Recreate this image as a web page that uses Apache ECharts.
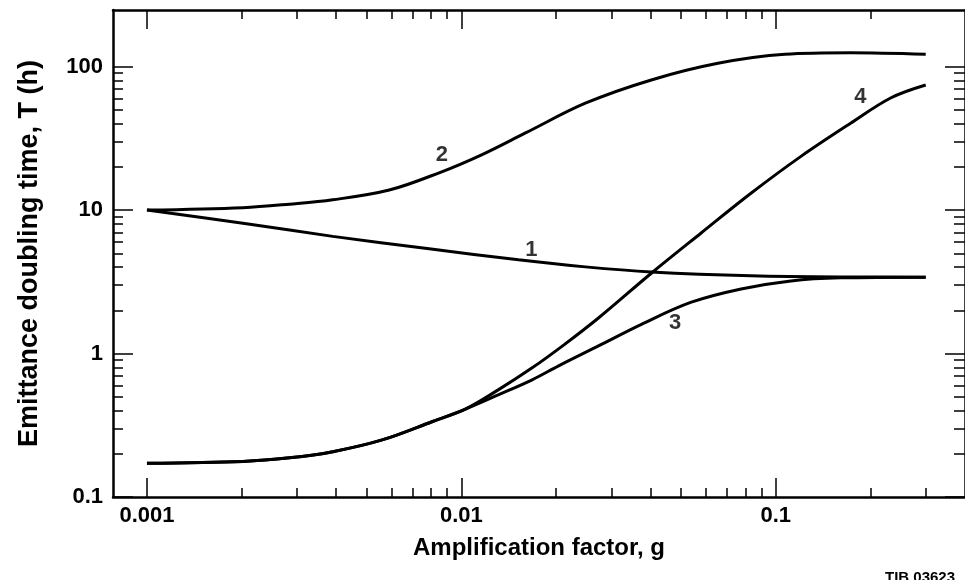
<!DOCTYPE html>
<html>
<head>
<meta charset="utf-8">
<script src="https://cdn.jsdelivr.net/npm/echarts@6.0.0/dist/echarts.min.js"></script>
<style>html,body{margin:0;padding:0;background:#fff}#c{width:965px;height:580px}</style>
</head>
<body>
<div id="c"></div>
<script>
// ---- data (g, T) ----
const curve1 = [[0.001,10],[0.00202,8.1],[0.0039,6.56],[0.0079,5.37],[0.0152,4.5],[0.0248,4.02],[0.0402,3.71],[0.0834,3.49],[0.173,3.42],[0.3,3.41]];
const curve2 = [[0.001,10],[0.00202,10.4],[0.00284,11.0],[0.0039,11.8],[0.0059,13.8],[0.0085,18.2],[0.0116,24.3],[0.016,34.5],[0.0248,55.6],[0.0402,80.8],[0.0655,105.6],[0.107,122],[0.173,125],[0.3,122]];
const curve3 = [[0.001,0.172],[0.00202,0.177],[0.00284,0.1875],[0.0039,0.207],[0.0056,0.25],[0.0081,0.336],[0.0103,0.41],[0.0131,0.515],[0.0168,0.656],[0.0204,0.821],[0.0273,1.13],[0.0374,1.6],[0.0539,2.28],[0.0776,2.82],[0.1117,3.21],[0.161,3.37],[0.3,3.41]];
const curve4 = [[0.001,0.172],[0.00202,0.177],[0.00284,0.1875],[0.0039,0.207],[0.0056,0.25],[0.0081,0.336],[0.0103,0.41],[0.0131,0.558],[0.0168,0.795],[0.0212,1.15],[0.0273,1.77],[0.0402,3.63],[0.0578,6.9],[0.0834,13.1],[0.12,23.6],[0.173,40.3],[0.232,60.5],[0.3,74.5]];
const curveLabels = [
  {name:'1', value:[0.0167,5.28]},
  {name:'2', value:[0.00867,24.3]},
  {name:'3', value:[0.0479,1.63]},
  {name:'4', value:[0.186,61.5]}
];
const xMajorTicks = [0.001,0.01,0.1];
const xMajorLabels = ['0.001','0.01','0.1'];
const xMinorBottom = [0.002,0.003,0.004,0.005,0.006,0.007,0.008,0.009,0.02,0.03,0.04,0.05,0.06,0.07,0.08,0.09,0.2,0.3];
const xMinorTop = [0.002,0.003,0.004,0.005,0.006,0.007,0.008,0.009,0.02,0.03,0.04,0.05,0.06,0.07,0.08,0.09,0.2];
const yMajorTicks = [0.1,1,10,100];
const yMajorLabels = ['0.1','1','10','100'];
const yMinorTicks = [0.2,0.3,0.4,0.5,0.6,0.7,0.8,0.9,2,3,4,5,6,7,8,9,20,30,40,50,60,70,80,90];
const xTitle = 'Amplification factor, g';
const yTitle = 'Emittance doubling time, T (h)';
const figId = 'TIB 03623';

// ---- layout ----
const L = Math.log10;
const XMIN = Math.pow(10,-3.108), XMAX = 0.4;
const YMIN = 0.1, YMAX = Math.pow(10,2.395);
const FONT = '"Liberation Sans", Arial, Helvetica, sans-serif';
const INK = '#000';

function fmt(ticks, labels){
  const lt = ticks.map(L);
  return v => { const i = lt.findIndex(t => Math.abs(t - v) < 1e-6); return i >= 0 ? labels[i] : ''; };
}
function tickAxis(position, lo, hi, ticks, len, lineOn, labelCfg){
  const lv = ticks.map(L);
  return {
    type:'value', position, min:L(lo), max:L(hi), gridIndex:0,
    axisLine:{show:lineOn, onZero:false, lineStyle:{color:INK, width:2.5}},
    axisTick:{show:true, inside:true, length:len, customValues:lv, lineStyle:{color:INK, width:1.5}},
    axisLabel: labelCfg ? Object.assign({customValues:lv}, labelCfg) : {show:false},
    splitLine:{show:false},
    axisPointer:{show:false}
  };
}

const chart = echarts.init(document.getElementById('c'), null, {renderer:'canvas'});
const lineStyle = {color:INK, width:3};
const lineBase = {type:'line', xAxisIndex:0, yAxisIndex:0, smooth:0.35, showSymbol:false, lineStyle};
chart.setOption({
  animation:false,
  backgroundColor:'#fff',
  textStyle:{fontFamily:FONT},
  grid:{left:113, top:10, right:-3, bottom:83, containLabel:false},
  xAxis:[
    {type:'log', logBase:10, min:XMIN, max:XMAX, show:false},
    Object.assign(tickAxis('bottom', XMIN, XMAX, xMajorTicks, 19, true,
      {show:true, margin:8, color:INK, fontSize:22, fontWeight:'bold', fontFamily:FONT, formatter:fmt(xMajorTicks,xMajorLabels)}),
      {name:xTitle, nameLocation:'middle', nameGap:39, nameTextStyle:{color:INK, fontSize:24, fontWeight:'bold', fontFamily:FONT}}),
    tickAxis('bottom', XMIN, XMAX, xMinorBottom, 9, false, null),
    tickAxis('top', XMIN, XMAX, xMajorTicks, 19, true, null),
    tickAxis('top', XMIN, XMAX, xMinorTop, 9, false, null)
  ],
  yAxis:[
    {type:'log', logBase:10, min:YMIN, max:YMAX, show:false},
    Object.assign(tickAxis('left', YMIN, YMAX, yMajorTicks, 20, true,
      {show:true, margin:10, color:INK, fontSize:22, fontWeight:'bold', fontFamily:FONT, formatter:fmt(yMajorTicks,yMajorLabels)}),
      {name:yTitle, nameLocation:'middle', nameGap:70, nameTextStyle:{color:INK, fontSize:27, fontWeight:'bold', fontFamily:FONT}}),
    tickAxis('left', YMIN, YMAX, yMinorTicks, 10, false, null),
    tickAxis('right', YMIN, YMAX, yMajorTicks, 20, true, null),
    tickAxis('right', YMIN, YMAX, yMinorTicks, 11, false, null)
  ],
  series:[
    Object.assign({name:'1', data:curve1}, lineBase),
    Object.assign({name:'2', data:curve2}, lineBase),
    Object.assign({name:'3', data:curve3}, lineBase),
    Object.assign({name:'4', data:curve4}, lineBase),
    {type:'scatter', xAxisIndex:0, yAxisIndex:0, symbolSize:0, data:curveLabels,
     label:{show:true, position:'inside', formatter:'{b}', color:INK, fontSize:22, fontWeight:'bold', fontFamily:FONT}}
  ],
  graphic:[
    {type:'text', left:885, top:570, style:{text:figId, fill:INK, font:'bold 15px ' + FONT}}
  ]
});
</script>
</body>
</html>
